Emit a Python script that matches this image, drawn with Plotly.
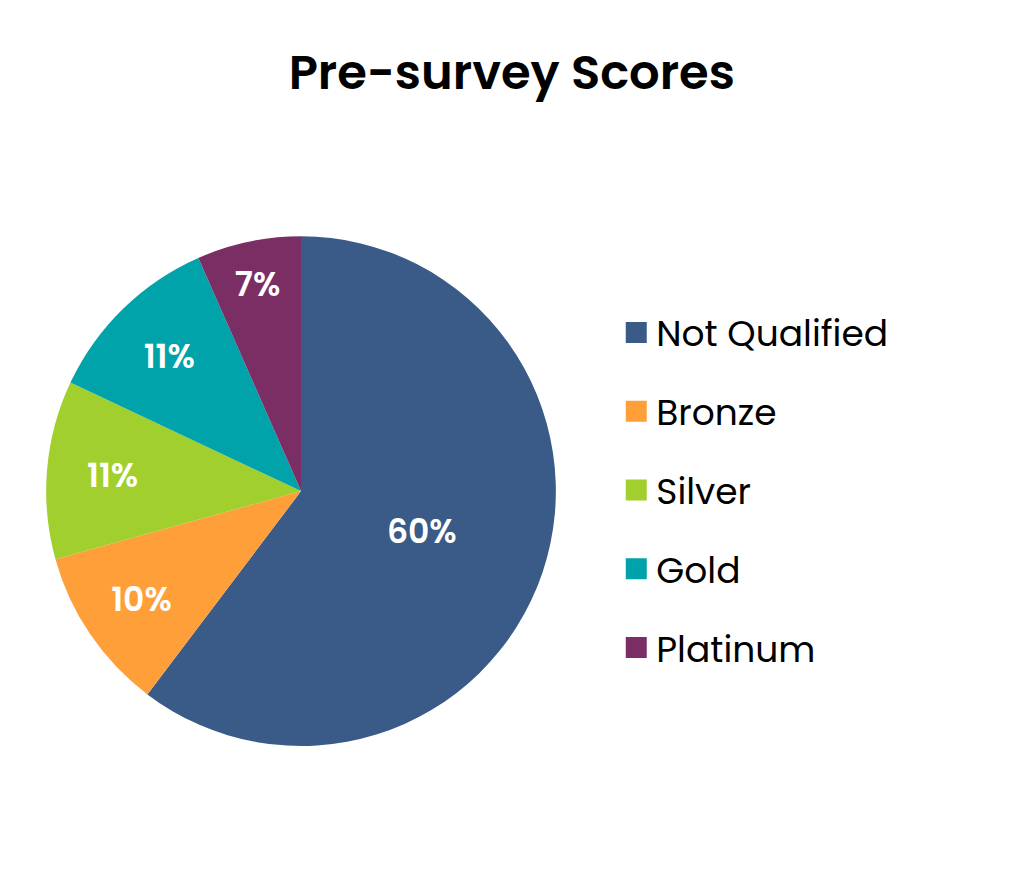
import plotly.graph_objects as go

# slice labels, shares (percent) and colours
categories = ['Not Qualified', 'Bronze', 'Silver', 'Gold', 'Platinum']
shares = [60.3, 10.4, 11.3, 11.4, 6.6]
colors = ['#3A5A88', '#FF9F3A', '#A0CF2E', '#00A3AA', '#7A2E64']

FONT = 'Poppins, Inter, sans-serif'

fig = go.Figure()

fig.add_trace(go.Pie(
    labels=categories,
    values=shares,
    sort=False,
    direction='clockwise',
    rotation=0,
    marker=dict(colors=colors, line=dict(width=0)),
    textinfo='percent',
    texttemplate='%{percent:.0%}',
    textposition='inside',
    insidetextorientation='horizontal',
    textfont=dict(family=FONT, size=33, color='white', weight=600),
    showlegend=False,
    hoverinfo='label+percent',
    domain=dict(x=[0.0371, 0.5352], y=[0.1595, 0.740]),
))

# legend entries as separate groups so the spacing can be widened
for name, col in zip(categories, colors):
    fig.add_trace(go.Scatter(
        x=[None], y=[None], mode='markers', name=name, legendgroup=name,
        marker=dict(symbol='square', size=16, color=col,
                    line=dict(width=5, color=col)),
    ))

fig.update_layout(
    width=1024, height=878,
    paper_bgcolor='white', plot_bgcolor='white',
    margin=dict(l=0, r=0, t=0, b=0),
    title=dict(text='Pre-survey Scores', x=0.492, xanchor='center',
               y=1 - 64 / 878, yanchor='middle',
               font=dict(family=FONT, size=48, color='black', weight=600)),
    xaxis=dict(visible=False), yaxis=dict(visible=False),
    legend=dict(x=0.594, xanchor='left', y=0.451, yanchor='middle',
                font=dict(family=FONT, size=36, color='black'),
                tracegroupgap=29, itemsizing='trace'),
)

fig.write_html("out.html")
